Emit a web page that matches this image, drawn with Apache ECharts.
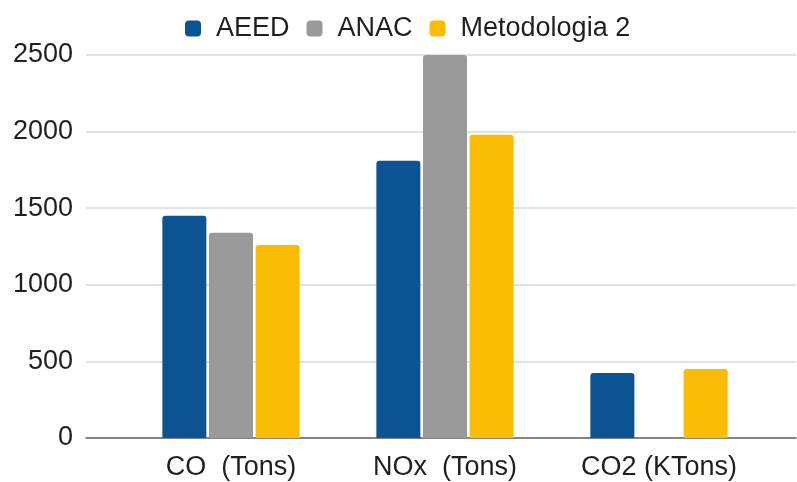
<!DOCTYPE html>
<html>
<head>
<meta charset="utf-8">
<script src="https://cdn.jsdelivr.net/npm/echarts@6/dist/echarts.min.js"></script>
<style>
html,body{margin:0;padding:0;background:#fff;}
#chart{width:797px;height:482px;}
</style>
</head>
<body>
<div id="chart"></div>
<script>
const categories = ['CO  (Tons)', 'NOx  (Tons)', 'CO2 (KTons)'];
const seriesNames = ['AEED', 'ANAC', 'Metodologia 2'];
const aeed = [1450, 1810, 425];
const anac = [1340, 2500, null];
const metodologia2 = [1260, 1980, 450];
const yTicks = [0, 500, 1000, 1500, 2000, 2500];
const colors = ['#0c5394', '#9a9a9a', '#fbbc04'];

const font = 'Liberation Sans, Arial, sans-serif';
const chart = echarts.init(document.getElementById('chart'), null, {renderer: 'canvas'});
const seriesData = [aeed, anac, metodologia2];

chart.setOption({
  animation: false,
  backgroundColor: '#ffffff',
  color: colors,
  legend: {
    left: 185,
    top: 15,
    padding: 0,
    itemWidth: 16,
    itemHeight: 16,
    itemGap: 17,
    icon: 'roundRect',
    textStyle: {fontFamily: font, fontSize: 27, color: '#1f1f1f', padding: [0, 0, 0, 10]},
    data: seriesNames
  },
  grid: [
    {left: 86, right: 1, top: 55, bottom: 44, containLabel: false},
    {left: 124, right: 31, top: 55, bottom: 44, containLabel: false}
  ],
  xAxis: [
    {
      type: 'category', gridIndex: 0, data: categories,
      axisLine: {show: true, lineStyle: {color: '#666666', width: 1.5}},
      axisTick: {show: false}, axisLabel: {show: false}, splitLine: {show: false}
    },
    {
      type: 'category', gridIndex: 1, data: categories,
      axisLine: {show: false}, axisTick: {show: false},
      axisLabel: {fontFamily: font, fontSize: 27, color: '#1f1f1f', margin: 16}
    }
  ],
  yAxis: [
    {
      type: 'value', gridIndex: 0, min: yTicks[0], max: yTicks[yTicks.length - 1], interval: 500,
      axisLine: {show: false}, axisTick: {show: false},
      axisLabel: {fontFamily: font, fontSize: 27, color: '#1f1f1f', margin: 13, formatter: v => String(v)},
      splitLine: {lineStyle: {color: '#d9d9d9', width: 1.5}}
    },
    {
      type: 'value', gridIndex: 1, min: yTicks[0], max: yTicks[yTicks.length - 1], interval: 500,
      show: false, splitLine: {show: false}
    }
  ],
  series: seriesNames.map((name, i) => ({
    name: name,
    type: 'bar',
    xAxisIndex: 1,
    yAxisIndex: 1,
    data: seriesData[i],
    barWidth: 44,
    barGap: '6%',
    itemStyle: {color: colors[i], borderRadius: [3, 3, 0, 0]}
  }))
});
</script>
</body>
</html>
